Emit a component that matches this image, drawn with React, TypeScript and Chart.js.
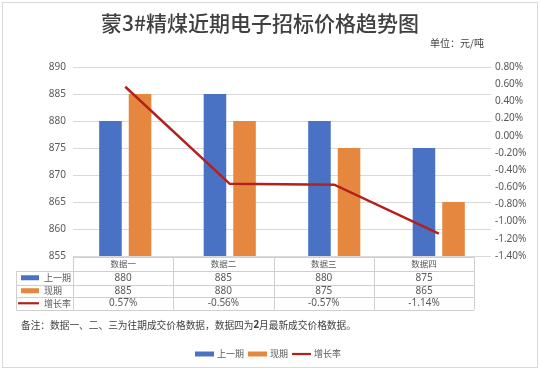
import React, { useEffect, useRef } from "react";
import { Chart, registerables } from "chart.js";

Chart.register(...registerables);

const titleText = "蒙3#精煤近期电子招标价格趋势图";
const unitText = "单位：元/吨";
const categories = ["数据一", "数据二", "数据三", "数据四"];
const prevPrice = [880, 885, 880, 875];
const curPrice = [885, 880, 875, 865];
const growthRate = [0.57, -0.56, -0.57, -1.14];
const seriesNames = ["上一期", "现期", "增长率"];
const priceAxis = { min: 855, max: 890, step: 5 };
const rateAxis = { min: -1.4, max: 0.8, step: 0.2 };
const notePre = "备注：数据一、二、三为往期成交价格数据，数据四为";
const noteBold = "2";
const notePost = "月最新成交价格数据。";

const BLUE = "#4A72C4";
const ORANGE = "#E6873F";
const RED = "#B3201E";
const CJK = "'Noto Sans CJK SC', sans-serif";
const LAT = "'Noto Sans', 'DejaVu Sans', sans-serif";

const fmtRate = (v: number) => v.toFixed(2) + "%";

const overlayPlugin = {
  id: "overlay",
  afterDraw(chart: any) {
    const ctx = chart.ctx as CanvasRenderingContext2D;
    const area = chart.chartArea;
    ctx.save();

    // outer border
    ctx.strokeStyle = "#D9D9D9";
    ctx.lineWidth = 1;
    ctx.strokeRect(2.5, 2.5, 535, 365);

    // title
    ctx.fillStyle = "#404040";
    ctx.font = `500 21px ${CJK}`;
    ctx.textAlign = "center";
    ctx.textBaseline = "middle";
    ctx.fillText(titleText, 260, 23);

    // unit
    ctx.fillStyle = "#404040";
    ctx.font = `10px ${CJK}`;
    ctx.textAlign = "left";
    ctx.fillText(unitText, 430, 43);

    // data table
    const left = area.left;
    const colW = 100.3;
    const keyLeft = 16;
    const rows = [257, 271, 284.5, 297, 309.5];
    const right = left + colW * categories.length;
    ctx.strokeStyle = "#CFCFCF";
    ctx.lineWidth = 1;
    ctx.beginPath();
    ctx.moveTo(left, rows[0] + 0.5);
    ctx.lineTo(right, rows[0] + 0.5);
    for (let r = 1; r < rows.length; r++) {
      ctx.moveTo(keyLeft, Math.round(rows[r]) + 0.5);
      ctx.lineTo(right, Math.round(rows[r]) + 0.5);
    }
    for (let c = 0; c <= categories.length; c++) {
      const x = Math.round(left + colW * c) + 0.5;
      ctx.moveTo(x, rows[0]);
      ctx.lineTo(x, rows[rows.length - 1]);
    }
    ctx.moveTo(keyLeft + 0.5, rows[1]);
    ctx.lineTo(keyLeft + 0.5, rows[rows.length - 1]);
    ctx.stroke();

    const mid = (i: number) => (rows[i] + rows[i + 1]) / 2;
    ctx.textAlign = "center";
    ctx.textBaseline = "middle";
    categories.forEach((cat, i) => {
      const cx = left + colW * (i + 0.5);
      ctx.fillStyle = "#595959";
      ctx.font = `8.5px ${CJK}`;
      ctx.fillText(cat, cx, mid(0));
      ctx.fillStyle = "#595959";
      ctx.font = `10px ${LAT}`;
      ctx.fillText(String(prevPrice[i]), cx, mid(1));
      ctx.fillText(String(curPrice[i]), cx, mid(2));
      ctx.fillText(fmtRate(growthRate[i]), cx, mid(3));
    });

    // row keys
    const drawKey = (idx: number, x: number, y: number, w: number) => {
      if (idx === 2) {
        ctx.strokeStyle = RED;
        ctx.lineWidth = 2.2;
        ctx.beginPath();
        ctx.moveTo(x, y);
        ctx.lineTo(x + w, y);
        ctx.stroke();
      } else {
        ctx.fillStyle = idx === 0 ? BLUE : ORANGE;
        ctx.fillRect(x, y - 2.5, w, 5);
      }
    };
    seriesNames.forEach((name, i) => {
      const y = mid(i + 1);
      if (i === 2) drawKey(i, 18, y, 21);
      else drawKey(i, 21, y, 18);
      ctx.fillStyle = "#595959";
      ctx.font = `9px ${CJK}`;
      ctx.textAlign = "left";
      ctx.fillText(name, 44, y);
    });

    // note
    let nx = 21;
    const ny = 325;
    ctx.textAlign = "left";
    ctx.fillStyle = "#404040";
    ctx.font = `9.7px ${CJK}`;
    ctx.fillText(notePre, nx, ny);
    nx += ctx.measureText(notePre).width;
    ctx.font = `bold 9.7px ${LAT}`;
    ctx.fillText(noteBold, nx, ny);
    nx += ctx.measureText(noteBold).width;
    ctx.font = `9.7px ${CJK}`;
    ctx.fillText(notePost, nx, ny);

    // legend
    ctx.font = `9px ${CJK}`;
    const keyW = 19;
    const gapKT = 3;
    const gapItem = 4;
    const widths = seriesNames.map((n) => keyW + gapKT + ctx.measureText(n).width);
    const total = widths.reduce((a, b) => a + b, 0) + gapItem * (seriesNames.length - 1);
    let lx = 268 - total / 2;
    const ly = 354;
    seriesNames.forEach((name, i) => {
      drawKey(i, lx, ly, keyW);
      ctx.fillStyle = "#595959";
      ctx.textAlign = "left";
      ctx.fillText(name, lx + keyW + gapKT, ly);
      lx += widths[i] + gapItem;
    });

    ctx.restore();
  },
};

export default function App() {
  const ref = useRef<HTMLCanvasElement>(null);

  useEffect(() => {
    document.body.style.margin = "0";
    const canvas = ref.current;
    if (!canvas) return;
    const chart = new Chart(canvas, {
      type: "bar",
      data: {
        labels: categories,
        datasets: [
          {
            type: "line",
            label: seriesNames[2],
            data: growthRate,
            yAxisID: "y1",
            borderColor: RED,
            backgroundColor: RED,
            borderWidth: 2.5,
            pointRadius: 0,
            tension: 0,
            order: 0,
          } as any,
          {
            type: "bar",
            label: seriesNames[0],
            data: prevPrice,
            yAxisID: "y",
            backgroundColor: BLUE,
            categoryPercentage: 0.566,
            barPercentage: 0.763,
            order: 1,
          },
          {
            type: "bar",
            label: seriesNames[1],
            data: curPrice,
            yAxisID: "y",
            backgroundColor: ORANGE,
            categoryPercentage: 0.566,
            barPercentage: 0.763,
            order: 1,
          },
        ],
      },
      options: {
        responsive: false,
        animation: false,
        devicePixelRatio: 1,
        layout: { padding: { top: 67, bottom: 115, left: 0, right: 0 } },
        plugins: {
          legend: { display: false },
          title: { display: false },
          tooltip: { enabled: false },
        },
        scales: {
          x: {
            display: false,
            offset: true,
            grid: { display: false },
          },
          y: {
            position: "left",
            min: priceAxis.min,
            max: priceAxis.max,
            border: { display: false },
            grid: { color: "#D9D9D9", drawTicks: false },
            ticks: {
              stepSize: priceAxis.step,
              padding: 7,
              color: "#595959",
              font: { family: LAT, size: 10 },
            },
            afterFit: (s: any) => {
              s.width = 73;
            },
          },
          y1: {
            position: "right",
            min: rateAxis.min,
            max: rateAxis.max,
            border: { display: false },
            grid: { display: false, drawTicks: false },
            ticks: {
              stepSize: rateAxis.step,
              padding: 4,
              color: "#595959",
              font: { family: LAT, size: 10 },
              callback: (v: any) => fmtRate(Number(v)),
            },
            afterFit: (s: any) => {
              s.width = 49;
            },
          },
        },
      },
      plugins: [overlayPlugin],
    });
    return () => chart.destroy();
  }, []);

  return (
    <div style={{ position: "fixed", left: 0, top: 0, width: 540, height: 371, background: "#fff" }}>
      <canvas ref={ref} width={540} height={371} />
    </div>
  );
}
